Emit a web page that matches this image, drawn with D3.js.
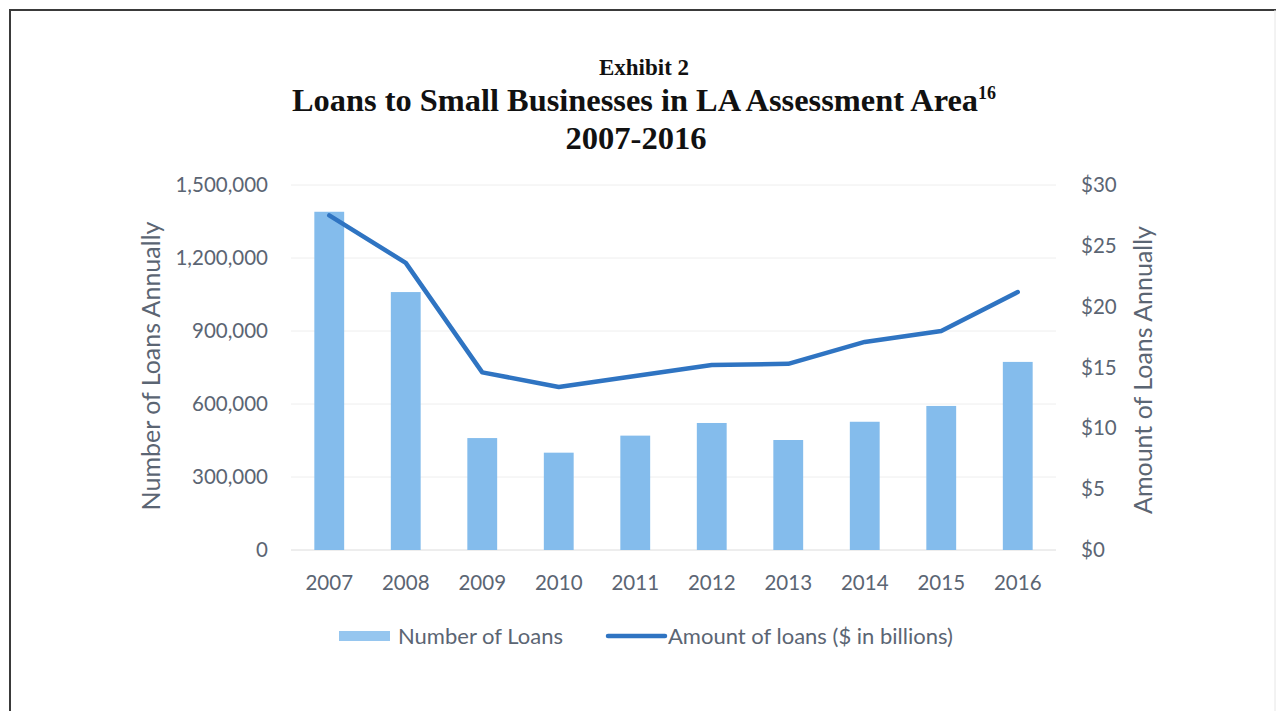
<!DOCTYPE html>
<html>
<head>
<meta charset="utf-8">
<script src="https://cdn.jsdelivr.net/npm/d3@7"></script>
<style>
  html, body { margin: 0; padding: 0; background: #fff; }
  svg { display: block; }
</style>
</head>
<body>
<svg id="chart" width="1279" height="711"></svg>
<script>
// Loans to small businesses, LA assessment area
const years = ["2007", "2008", "2009", "2010", "2011", "2012", "2013", "2014", "2015", "2016"];
const loanCounts = [1390000, 1060000, 460000, 400000, 470000, 522000, 452000, 527000, 592000, 773000];
const loanAmounts = [27.5, 23.6, 14.6, 13.4, 14.3, 15.2, 15.3, 17.1, 18.0, 21.2];
const countTicks = [0, 300000, 600000, 900000, 1200000, 1500000];
const amountTicks = [0, 5, 10, 15, 20, 25, 30];
const legendLabels = ["Number of Loans", "Amount of loans ($ in billions)"];

const svg = d3.select("#chart");
const sans = "Lato, 'Open Sans', sans-serif";
const serif = "'Liberation Serif', 'Times New Roman', serif";
const textGray = "#5b6573";
const barColor = "#84bcec";
const lineColor = "#2f74c2";

// frame around the exhibit
svg.append("path")
  .attr("d", "M10,711 L10,10 L1276,10")
  .attr("fill", "none").attr("stroke", "#3a3a3a").attr("stroke-width", 2);
svg.append("line")
  .attr("x1", 1275).attr("x2", 1275).attr("y1", 10).attr("y2", 711)
  .attr("stroke", "#e6e6e6").attr("stroke-width", 1);

// titles
svg.append("text").attr("x", 644).attr("y", 75).attr("text-anchor", "middle")
  .attr("font-family", serif).attr("font-weight", "bold").attr("font-size", 23)
  .attr("fill", "#111").text("Exhibit 2");
const t2 = svg.append("text").attr("x", 644).attr("y", 111).attr("text-anchor", "middle")
  .attr("font-family", serif).attr("font-weight", "bold").attr("font-size", 32.4)
  .attr("fill", "#111");
t2.append("tspan").text("Loans to Small Businesses in LA Assessment Area");
t2.append("tspan").attr("font-size", 18).attr("dy", -12).text("16");
svg.append("text").attr("x", 636).attr("y", 149).attr("text-anchor", "middle")
  .attr("font-family", serif).attr("font-weight", "bold").attr("font-size", 32.6)
  .attr("fill", "#111").text("2007-2016");

// scales
const x = d3.scaleBand().domain(years).range([291, 1056])
  .paddingInner(0.61).paddingOuter(0.305);
const yLeft = d3.scaleLinear().domain([0, 1500000]).range([550, 185]);
const yRight = d3.scaleLinear().domain([0, 30]).range([550, 185]);

// gridlines
svg.append("g").selectAll("line").data(countTicks).join("line")
  .attr("x1", 291).attr("x2", 1056)
  .attr("y1", d => yLeft(d)).attr("y2", d => yLeft(d))
  .attr("stroke", d => d === 0 ? "#dcdcdc" : "#eeeeee").attr("stroke-width", 1);

// left axis
const leftAxis = svg.append("g").attr("transform", "translate(276,0)")
  .call(d3.axisLeft(yLeft).tickValues(countTicks).tickSize(0).tickPadding(8)
    .tickFormat(d3.format(",")));
leftAxis.select(".domain").remove();
leftAxis.selectAll("text").attr("font-family", sans).attr("font-size", 20.5)
  .attr("fill", textGray);

// right axis
const rightAxis = svg.append("g").attr("transform", "translate(1073,0)")
  .call(d3.axisRight(yRight).tickValues(amountTicks).tickSize(0).tickPadding(8)
    .tickFormat(d => "$" + d));
rightAxis.select(".domain").remove();
rightAxis.selectAll("text").attr("font-family", sans).attr("font-size", 20.5)
  .attr("fill", textGray);

// bottom axis
const bottomAxis = svg.append("g").attr("transform", "translate(0,567)")
  .call(d3.axisBottom(x).tickSize(0).tickPadding(8));
bottomAxis.select(".domain").remove();
bottomAxis.selectAll("text").attr("font-family", sans).attr("font-size", 20.5)
  .attr("fill", textGray);

// axis titles
svg.append("text").attr("transform", "translate(160,366) rotate(-90)")
  .attr("text-anchor", "middle").attr("font-family", sans).attr("font-size", 25)
  .attr("fill", textGray).text("Number of Loans Annually");
svg.append("text").attr("transform", "translate(1152,370) rotate(-90)")
  .attr("text-anchor", "middle").attr("font-family", sans).attr("font-size", 25)
  .attr("fill", textGray).text("Amount of Loans Annually");

// bars: number of loans
svg.append("g").selectAll("rect").data(years).join("rect")
  .attr("x", d => x(d))
  .attr("width", x.bandwidth())
  .attr("y", (d, i) => yLeft(loanCounts[i]))
  .attr("height", (d, i) => yLeft(0) - yLeft(loanCounts[i]))
  .attr("fill", barColor);

// line: amount of loans
const line = d3.line()
  .x((d, i) => x(years[i]) + x.bandwidth() / 2)
  .y(d => yRight(d));
svg.append("path").datum(loanAmounts)
  .attr("d", line)
  .attr("fill", "none").attr("stroke", lineColor).attr("stroke-width", 4.5)
  .attr("stroke-linejoin", "round").attr("stroke-linecap", "round");

// legend
const lg = svg.append("g");
lg.append("rect").attr("x", 339).attr("y", 631).attr("width", 51).attr("height", 10)
  .attr("fill", barColor).attr("opacity", 0.85);
lg.append("text").attr("x", 398).attr("y", 644).attr("font-family", sans)
  .attr("font-size", 22).attr("fill", textGray).text(legendLabels[0]);
lg.append("line").attr("x1", 608).attr("x2", 665).attr("y1", 636).attr("y2", 636)
  .attr("stroke", lineColor).attr("stroke-width", 4.5).attr("stroke-linecap", "round");
lg.append("text").attr("x", 668).attr("y", 644).attr("font-family", sans)
  .attr("font-size", 22).attr("fill", textGray).text(legendLabels[1]);
</script>
</body>
</html>
